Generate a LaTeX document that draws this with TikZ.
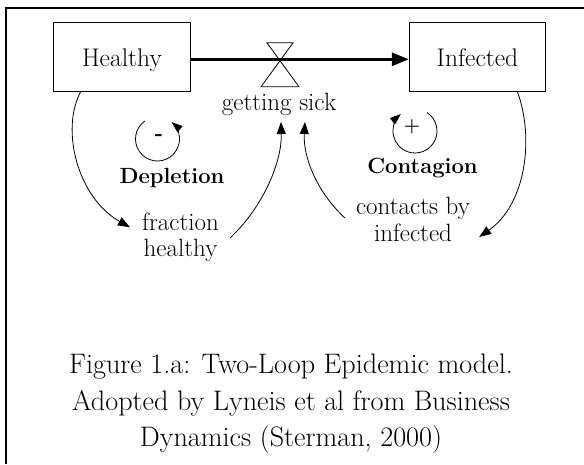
\documentclass[tikz,border=0pt]{standalone}
\usepackage{fontspec}
\usetikzlibrary{arrows.meta,calc}
\begin{document}
\begin{tikzpicture}[x=1pt,y=-1pt,
  lbl/.style={font=\fontsize{25}{26.7}\selectfont, inner sep=0pt, align=center},
  bld/.style={font=\fontsize{22}{25}\selectfont\bfseries, inner sep=0pt},
  sgn/.style={font=\fontsize{22}{24}\selectfont\bfseries, inner sep=0pt},
  stock/.style={draw, line width=0.9pt, minimum width=136.5pt, minimum height=69pt, inner sep=0pt,
    text height=19pt, text depth=0pt, font=\fontsize{25.5}{26}\selectfont},
  link/.style={line width=0.8pt, -{Triangle[length=12pt,width=9pt]}},
  loopar/.style={line width=0.8pt, -{Triangle[length=11pt,width=8pt]}},
  capt/.style={font=\fontsize{28.2}{36.7}\selectfont, align=center, inner sep=0pt}
]
\useasboundingbox (0,0) rectangle (584,464);
\draw[line width=2pt] (6.3,464) |- (584,8.3);

% stocks
\node[stock] (healthy) at (122,56.5) {Healthy};
\node[stock] (infected) at (477.5,56.5) {Infected};

% valve and flow
\coordinate (valve) at (280,59.3);
\draw[line width=0.8pt, shift={(valve)}] (-13,-16.5) -- (19,27.5) -- (-19,27.5) -- (13,-16.5) -- cycle;
\draw[line width=3pt, -{Triangle[length=17pt,width=13pt]}] (healthy.east |- valve) -- (infected.west |- valve);

% labels
\node[lbl, anchor=base] (gs) at (279,110) {getting sick};
\node[lbl] (fh) at (180.5,237.2) {fraction\\healthy};
\node[lbl] (cbi) at (413,219.7) {contacts by\\infected};
\node[bld, anchor=base] (dep) at (172,183.5) {Depletion};
\node[bld, anchor=base] (con) at (422.5,173) {Contagion};

% loops
\coordinate (depc) at (157.5,139);
\coordinate (conc) at (415,131);
\draw[loopar] (depc) ++(-125:22) arc[start angle=-125, end angle=-410, radius=22];
\draw[loopar] (conc) ++(-57:22) arc[start angle=-57, end angle=230, radius=22];
\node[sgn] (minus) at ($(depc)+(1.5,-1.5)$) {-};
\node[sgn, font=\fontsize{19}{20}\selectfont\bfseries] (plus) at ($(conc)+(-3,-4)$) {+};

% links
\draw[link] ($(healthy.south west)!0.2!(healthy.south east)$) .. controls (60,130) and (78,198) .. ($(fh.west)+(-12,-10)$);
\draw[link] ($(fh.east)+(11,0.8)$) .. controls (265,205) and (282,160) .. ($(gs.base)+(2,12)$);
\draw[link] ($(cbi.west)+(-11,-1.7)$) .. controls (315,190) and (303,155) .. ($(gs.base)+(26,12)$);
\draw[link] ($(infected.south west)!0.79!(infected.south east)$) .. controls (535,140) and (525,205) .. ($(cbi.east)+(9,17.3)$);

% caption
\node[capt, anchor=north] (cap) at (291,353.8) {Figure 1.a: Two-Loop Epidemic model.\\Adopted by Lyneis et al from Business\\Dynamics (Sterman, 2000)};
\end{tikzpicture}
\end{document}
